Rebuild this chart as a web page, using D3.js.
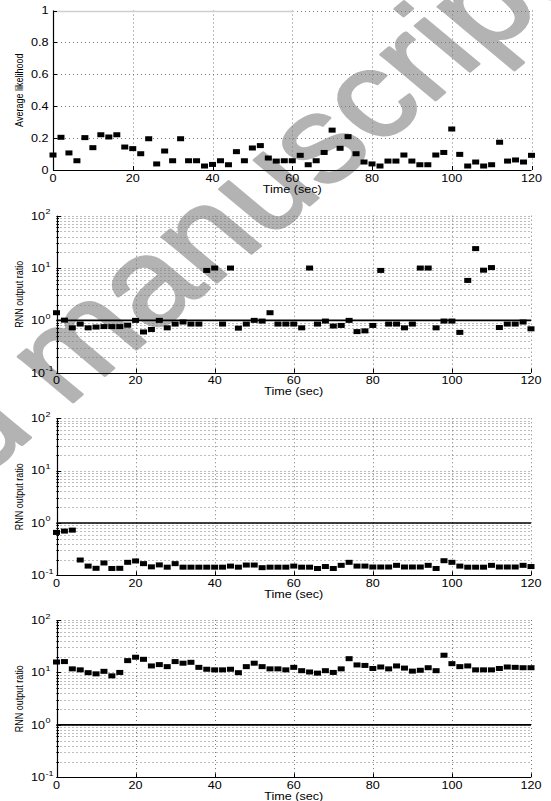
<!DOCTYPE html>
<html><head><meta charset="utf-8">
<script src="https://cdn.jsdelivr.net/npm/d3@7"></script>
<style>html,body{margin:0;padding:0;background:#fff;}svg{display:block;}</style>
</head><body>
<script>
const times = [0,2,4,6,8,10,12,14,16,18,20,22,24,26,28,30,32,34,36,38,40,42,44,46,48,50,52,54,56,58,60,62,64,66,68,70,72,74,76,78,80,82,84,86,88,90,92,94,96,98,100,102,104,106,108,110,112,114,116,118,120];
const likelihood = [0.094,0.205,0.107,0.058,0.203,0.14,0.221,0.207,0.221,0.144,0.134,0.102,0.196,0.038,0.119,0.058,0.196,0.058,0.058,
  0.025,0.035,0.058,0.033,0.115,0.058,0.138,0.153,0.075,0.056,0.058,0.058,0.092,0.033,0.058,0.11,0.25,0.136,0.209,0.102,0.05,
  0.038,0.025,0.056,0.056,0.094,0.056,0.033,0.033,0.094,0.11,0.257,0.098,0.025,0.05,0.025,0.033,0.174,0.056,0.063,0.05,0.092];
const ratioA = [1.40,1.01,0.72,0.85,0.72,0.745,0.76,0.76,0.76,0.81,1.0,0.6,0.67,1.0,0.72,0.85,0.93,0.85,0.85,
  9.0,10,0.85,10,0.71,0.85,1.0,0.97,1.4,0.85,0.85,0.85,0.72,10,0.85,0.97,0.78,0.80,1.0,0.61,0.63,
  0.80,9.0,0.85,0.85,0.72,0.85,10,10,0.72,0.97,0.97,0.59,5.8,23.5,9.1,10.2,0.73,0.85,0.85,0.93,0.69];
const ratioB = [0.66,0.70,0.73,0.196,0.15,0.136,0.172,0.135,0.136,0.177,0.188,0.167,0.145,0.158,0.143,0.167,0.143,0.143,0.143,
  0.143,0.143,0.143,0.15,0.143,0.157,0.157,0.14,0.143,0.143,0.143,0.15,0.143,0.143,0.135,0.147,0.135,0.155,0.177,0.15,0.15,
  0.144,0.144,0.144,0.155,0.144,0.144,0.144,0.155,0.135,0.19,0.177,0.15,0.143,0.143,0.143,0.155,0.144,0.144,0.144,0.155,0.147];
const ratioC = [15.8,16.1,11.7,11.2,9.9,9.4,10.5,8.6,10,16.8,19.5,17.8,13.3,14.1,12.9,16.1,15,15.6,12.5,
  11.5,11.2,11.2,11.5,9.9,12.9,15,12.9,11.7,11.7,11.2,12.5,10.8,10.2,9.7,10.8,10,11.7,18.3,13.9,13.6,
  11.9,12.7,11.7,13.3,12.1,10.6,11,12.3,10.8,21.3,14.7,12.9,13.3,11.2,11.2,11.2,11.9,12.7,12.5,12.3,12.3];
const xTicks = [0,20,40,60,80,100,120];
const linTicks = [0,0.2,0.4,0.6,0.8,1];
const linTickLabels = ["0","0.2","0.4","0.6","0.8","1"];
const logExps = [-1,0,1,2];
const xLabel = "Time (sec)";
const yLabelLik = "Average likelihood";
const yLabelRatio = "RNN output ratio";
const watermark = "Accepted manuscript";

const W = 551, H = 801, SX = 1.2;
const FONT = "Liberation Sans, Arial, Helvetica, sans-serif";
const svg = d3.select("body").append("svg").attr("width", W).attr("height", H);

// watermark (behind everything)
const wmSize = 122;
svg.append("g").attr("transform", `translate(66,408) scale(${SX},1) rotate(-45)`)
  .append("text").attr("x", -4.447 * wmSize).attr("y", 0)
  .attr("font-family", FONT).attr("font-size", wmSize).attr("fill", "#b3b3b3")
  .attr("stroke", "#b3b3b3").attr("stroke-width", 2.5).attr("stroke-linejoin", "round")
  .text(watermark);

function stretchedText(g, x, y, txt, opts) {
  const t = g.append("g").attr("transform", `translate(${x},${y}) scale(${SX},1)` + (opts.rotate ? ` rotate(${opts.rotate})` : ""))
    .append("text").attr("font-family", FONT).attr("font-size", opts.size || 10)
    .attr("fill", "#000").attr("text-anchor", opts.anchor || "middle");
  t.text(txt);
  return t;
}

const grid = { stroke: "#7a7a7a", dash: "1,3" };

function drawPanel(cfg) {
  const g = svg.append("g");
  const x = d3.scaleLinear().domain([0, 120]).range([cfg.x0, cfg.x1]);
  const y = cfg.log
    ? d3.scaleLog().domain([0.1, 100]).range([cfg.yb, cfg.yt])
    : d3.scaleLinear().domain([0, 1]).range([cfg.yb, cfg.yt]);

  let hLines;
  if (cfg.log) {
    hLines = [];
    [0.1, 1, 10].forEach(d => { for (let k = 1; k <= 10; k++) hLines.push(+(d * k).toPrecision(6)); });
    hLines = hLines.filter((v, i, a) => a.indexOf(v) === i && v > 0.1);
  } else {
    hLines = linTicks.slice(1);
  }
  g.append("g").selectAll("line").data(hLines).join("line")
    .attr("x1", cfg.x0).attr("x2", cfg.x1)
    .attr("y1", d => Math.round(y(d)) + 0.5).attr("y2", d => Math.round(y(d)) + 0.5)
    .attr("stroke", grid.stroke).attr("stroke-dasharray", grid.dash).attr("stroke-width", 1);
  g.append("g").selectAll("line").data(xTicks.slice(1)).join("line")
    .attr("x1", d => Math.round(x(d)) + 0.5).attr("x2", d => Math.round(x(d)) + 0.5)
    .attr("y1", cfg.yt).attr("y2", cfg.yb)
    .attr("stroke", grid.stroke).attr("stroke-dasharray", grid.dash).attr("stroke-width", 1);

  if (!cfg.log) {
    g.append("line").attr("x1", x(0)).attr("x2", x(60.5))
      .attr("y1", Math.round(y(1)) + 0.5).attr("y2", Math.round(y(1)) + 0.5)
      .attr("stroke", "#cfcfcf").attr("stroke-width", 1.5);
  }

  if (cfg.log) {
    g.append("line").attr("x1", cfg.x0).attr("x2", cfg.x1)
      .attr("y1", y(1)).attr("y2", y(1)).attr("stroke", "#000").attr("stroke-width", 1.6);
  }

  g.append("line").attr("x1", Math.round(cfg.x0) + 0.5).attr("x2", Math.round(cfg.x0) + 0.5)
    .attr("y1", cfg.yt).attr("y2", cfg.yb + 0.5).attr("stroke", "#000").attr("stroke-width", 1.2);
  g.append("line").attr("x1", cfg.x0).attr("x2", cfg.x1)
    .attr("y1", Math.round(cfg.yb) + 0.5).attr("y2", Math.round(cfg.yb) + 0.5).attr("stroke", "#000").attr("stroke-width", 1.2);

  g.append("g").selectAll("line").data(xTicks).join("line")
    .attr("x1", d => Math.round(x(d)) + 0.5).attr("x2", d => Math.round(x(d)) + 0.5)
    .attr("y1", cfg.yb).attr("y2", cfg.yb - 4).attr("stroke", "#000");
  if (cfg.log) {
    const minor = hLines.filter(v => Math.abs(Math.log10(v) - Math.round(Math.log10(v))) > 1e-6);
    g.append("g").selectAll("line").data(minor).join("line")
      .attr("x1", cfg.x0).attr("x2", cfg.x0 + 2.5)
      .attr("y1", d => Math.round(y(d)) + 0.5).attr("y2", d => Math.round(y(d)) + 0.5).attr("stroke", "#000");
    g.append("g").selectAll("line").data(logExps).join("line")
      .attr("x1", cfg.x0).attr("x2", cfg.x0 + 4.5)
      .attr("y1", d => Math.round(y(Math.pow(10, d))) + 0.5).attr("y2", d => Math.round(y(Math.pow(10, d))) + 0.5).attr("stroke", "#000");
    logExps.forEach(e => {
      const yy = y(Math.pow(10, e));
      stretchedText(g, cfg.x0 - 11.5, yy + 3.8, "10", { size: 10.5, anchor: "end" });
      stretchedText(g, cfg.x0 - 11, yy - 1.5, String(e), { size: 7.5, anchor: "start" });
    });
  } else {
    g.append("g").selectAll("line").data(linTicks).join("line")
      .attr("x1", cfg.x0).attr("x2", cfg.x0 + 4)
      .attr("y1", d => Math.round(y(d)) + 0.5).attr("y2", d => Math.round(y(d)) + 0.5).attr("stroke", "#000");
    linTicks.forEach((v, i) => {
      stretchedText(g, cfg.x0 - 4.5, y(v) + 3.8, linTickLabels[i], { size: 10.5, anchor: "end" });
    });
  }
  xTicks.forEach(v => stretchedText(g, x(v), cfg.yb + 11.5, String(v), { size: 10.5 }));
  stretchedText(g, (cfg.x0 + cfg.x1) / 2, cfg.yb + 22.5, xLabel, { size: 10.5 });
  stretchedText(g, cfg.ylx, (cfg.yt + cfg.yb) / 2, cfg.ylabel, { size: 9, rotate: -90 });

  g.append("g").selectAll("rect").data(cfg.values.map((v, i) => [times[i], v])).join("rect")
    .attr("x", d => x(d[0]) - 3.5).attr("y", d => y(d[1]) - 2.5)
    .attr("width", 7).attr("height", 5).attr("fill", "#000");
}

drawPanel({ x0: 53, x1: 531.5, yt: 10.5, yb: 170, log: false, values: likelihood, ylabel: yLabelLik, ylx: 23 });
drawPanel({ x0: 56.5, x1: 531, yt: 215.7, yb: 372.7, log: true, values: ratioA, ylabel: yLabelRatio, ylx: 23 });
drawPanel({ x0: 56.5, x1: 531, yt: 418.3, yb: 575.3, log: true, values: ratioB, ylabel: yLabelRatio, ylx: 23 });
drawPanel({ x0: 56.5, x1: 531, yt: 620, yb: 777.3, log: true, values: ratioC, ylabel: yLabelRatio, ylx: 23 });
</script>
</body></html>
